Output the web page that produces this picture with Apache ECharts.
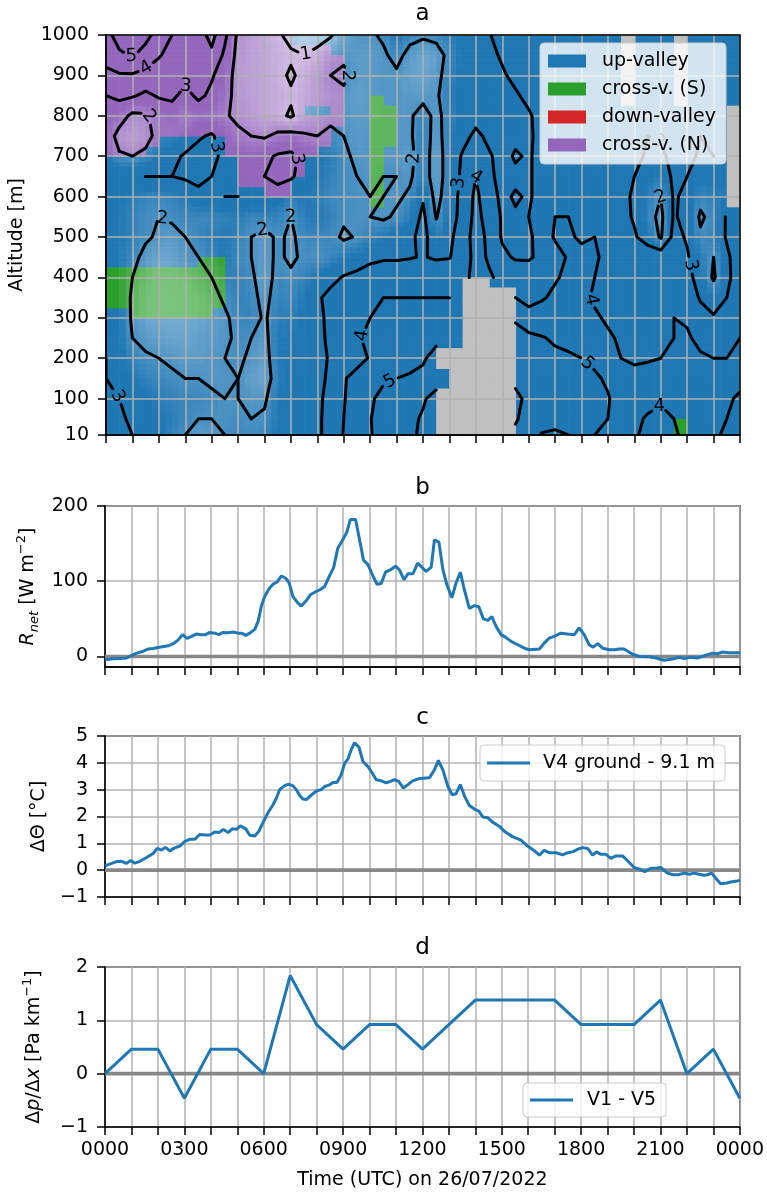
<!DOCTYPE html>
<html>
<head>
<meta charset="utf-8">
<title>Valley winds, net radiation, temperature and pressure differences on 26/07/2022</title>
<script src="https://cdn.jsdelivr.net/npm/echarts@6/dist/echarts.min.js"></script>
<style>
  html, body { margin: 0; padding: 0; background: #ffffff; }
  #chart { width: 767px; height: 1193px; }
</style>
</head>
<body>
<div id="chart"></div>
<script>
// ---------------- axis ticks ----------------
const hourTicks = [0, 1, 2, 3, 4, 5, 6, 7, 8, 9, 10, 11, 12, 13, 14, 15, 16, 17, 18, 19, 20, 21, 22, 23, 24];
const rnetTicks = [0, 100, 200];

// ---------------- panel a: wind classes ----------------
const classNames = ['up-valley', 'cross-v. (S)', 'down-valley', 'cross-v. (N)'];
const classCodes = ['u', 's', 'd', 'n'];
const classColors = ['#1f77b4', '#2ca02c', '#d62728', '#9467bd'];
const missingColor = '#c0c0c0';

// Wind class per 30-min x 25-m cell, run-length coded, top row (975-1000 m) first.
// u = up-valley, s = cross-valley (S), d = down-valley, n = cross-valley (N), x = no data
const windClassRuns = [
  'n14 u25 x1 u3 x1 u4',          // 975
  'n17 u22 x1 u3 x1 u4',          // 950
  'n18 u21 x1 u3 x1 u4',          // 925
  'n18 u21 x1 u3 x1 u4',          // 900
  'n18 u21 x1 u3 x1 u4',          // 875
  'n18 u21 x1 u3 x1 u4',          // 850
  'n18 u2 s1 u18 x1 u3 x1 u4',    // 825
  'n15 u2 n1 u2 s2 u25 x1',       // 800
  'n18 u2 s2 u25 x1',             // 775
  'n17 u3 s2 u25 x1',             // 750
  'n4 u5 n8 u3 s2 u25 x1',        // 725
  'n3 u6 n7 u4 s1 u26 x1',        // 700
  'u10 n5 u5 s1 u26 x1',          // 675
  'u10 n5 u5 s1 u26 x1',          // 650
  'u10 n4 u6 s1 u26 x1',          // 625
  'u12 n2 u6 s1 u26 x1',          // 600
  'u20 s1 u26 x1',                // 575
  'u48',                          // 550
  'u48',                          // 525
  'u48',                          // 500
  'u48',                          // 475
  'u48',                          // 450
  'u7 s2 u39',                    // 425
  's9 u39',                       // 400
  's9 u18 x2 u19',                // 375
  's9 u18 x4 u17',                // 350
  's9 u18 x4 u17',                // 325
  'u2 s6 u19 x4 u17',             // 300
  'u27 x4 u17',                   // 275
  'u27 x4 u17',                   // 250
  'u27 x4 u17',                   // 225
  'u25 x6 u17',                   // 200
  'u25 x6 u17',                   // 175
  'u26 x5 u17',                   // 150
  'u26 x5 u17',                   // 125
  'u25 x6 u17',                   // 100
  'u25 x6 u17',                   // 75
  'u25 x6 u17',                   // 50
  'u25 x6 u12 s1 u4',             // 25
  'u25 x6 u12 s1 u4'              // 0
];

// Horizontal wind speed (m/s) on a 30-min grid (0000..2400), rows from 1000 m down to 10 m.
// Groups per row: 00-05 h | 05:30-09 h | 09:30-17 h | 17:30-18 h | 18:30-21 h | 21:30-24 h
const speedAltitudes = [1000, 950, 900, 850, 800, 750, 700, 650, 600, 550, 500, 450, 400, 350, 300, 250, 200, 150, 100, 50, 10];
const speedRows = [
  [4.6,5.5,5.8,5.3,4.6,4.0,3.4,3.6,4.3,3.2,1.8, 1.5,1.3,1.1,0.8,0.6,0.7,0.9,1.6, 1.9,1.9,2.1,2.6,2.2,2.1,2.2,2.4,2.6,2.8,2.95,3.3,3.5,3.4,3.6,3.5, 3.7,3.9, 3.6,3.4,3.2,3.1,3.3,3.4, 3.3,3.5,3.4,3.5,3.0,3.3],
  [4.3,4.8,5.1,4.6,4.1,3.6,3.0,3.3,3.8,2.8,1.7, 1.5,1.4,1.2,1.1,1.0,1.2,1.7,1.9, 1.8,1.8,1.9,2.2,1.8,1.6,1.7,2.2,2.6,2.7,2.8,3.1,3.4,3.5,3.6,3.6, 3.6,3.8, 3.6,3.4,3.1,3.0,3.2,3.3, 3.3,3.4,3.3,3.4,3.1,3.3],
  [3.8,3.9,3.9,3.7,3.4,3.1,3.3,3.5,3.1,2.5,1.6, 1.5,1.4,1.2,0.9,1.2,1.6,2.0,2.1, 1.8,1.8,1.9,1.9,1.7,1.6,1.8,2.3,2.6,2.7,2.8,2.9,3.2,3.4,3.6,3.7, 3.7,3.7, 3.6,3.5,3.2,3.1,3.2,3.2, 3.4,3.3,3.2,3.3,3.2,3.4],
  [3.0,3.2,3.1,2.8,3.1,3.2,2.7,3.2,2.8,2.3,1.7, 1.5,1.4,1.3,1.1,1.3,1.6,1.8,1.9, 1.7,1.8,1.9,1.9,1.8,1.8,1.9,2.4,2.6,2.7,2.7,2.8,2.9,3.2,3.5,3.7, 3.8,3.7, 3.7,3.5,3.3,3.2,3.1,3.2, 3.4,3.3,3.1,3.2,3.3,3.4],
  [2.7,2.4,1.8,1.9,2.3,2.5,2.1,2.4,2.3,2.1,1.8, 1.6,1.4,1.2,0.9,1.4,1.7,1.9,1.9, 1.8,1.8,1.9,1.9,1.9,2.3,1.8,2.3,2.6,2.7,2.7,2.7,2.8,2.9,3.3,3.6, 3.8,3.6, 3.7,3.5,3.3,3.2,3.0,3.2, 3.4,3.3,3.1,3.2,null,null],
  [2.5,1.7,1.5,1.7,2.3,2.3,2.5,2.9,3.1,2.6,2.2, 2.0,1.9,2.2,2.3,2.1,2.0,2.1,2.0, 1.8,1.9,1.9,1.9,1.9,2.4,1.7,2.4,2.7,3.2,2.8,2.7,2.8,2.8,3.4,3.7, 3.9,3.7, 3.7,3.5,3.4,3.3,3.0,3.1, 3.3,3.2,3.0,3.1,null,null],
  [2.6,2.1,2.0,2.2,2.6,2.8,3.1,3.3,3.2,2.8,2.7, 2.6,2.8,3.1,3.2,2.8,2.6,2.4,2.1, 1.9,1.9,1.9,1.9,1.8,2.4,1.6,2.4,3.1,3.4,3.1,2.7,3.1,2.9,3.3,3.7, 3.8,3.7, 3.7,3.6,3.4,3.2,2.9,2.8, 3.3,3.2,2.9,3.0,null,null],
  [2.8,2.8,2.9,3.0,3.0,3.0,3.1,3.2,3.0,2.9,2.8, 2.7,3.0,3.2,3.1,2.7,2.5,2.3,2.1, 2.0,1.9,2.0,2.0,1.9,2.4,1.6,2.4,3.2,4.0,3.2,2.7,2.8,2.9,3.3,3.8, 3.9,3.8, 3.7,3.6,3.3,3.0,2.6,2.4, 3.2,3.0,2.6,2.7,null,null],
  [2.8,2.6,2.4,2.3,2.2,2.3,2.5,2.8,2.9,3.0,3.0, 2.9,2.8,2.7,2.4,2.5,2.4,2.2,2.1, 2.0,2.0,2.0,1.9,2.1,2.9,1.7,2.5,3.3,4.2,3.4,2.8,3.1,2.9,3.3,3.9, 3.9,3.8, 3.8,3.6,3.2,2.9,2.4,2.0, 3.1,2.8,2.2,2.4,null,null],
  [2.6,2.5,2.3,2.1,2.0,2.1,2.2,2.2,2.2,2.3,2.4, 2.2,2.3,2.3,2.0,2.4,2.5,2.3,2.1, 2.0,2.0,1.9,2.1,2.4,3.2,1.95,2.6,3.3,4.3,3.6,2.9,2.9,3.0,3.4,4.0, 4.0,3.8, 3.9,3.7,3.3,2.9,2.3,1.8, 3.1,2.7,1.9,2.2,3.1,3.4],
  [2.6,2.5,2.3,2.1,1.9,1.8,2.0,2.2,2.4,2.5,2.3, 2.0,1.8,2.1,1.9,2.2,2.2,2.2,1.9, 2.05,2.3,2.5,2.7,2.8,3.3,2.4,2.8,3.5,4.4,3.8,2.9,2.8,2.8,3.5,4.1, 4.1,3.9, 4.0,3.8,3.5,3.1,2.6,1.9, 3.3,2.9,2.1,2.3,3.1,3.5],
  [2.7,2.5,2.2,1.8,1.6,1.6,1.9,2.0,2.3,2.5,2.2, 2.0,1.8,2.1,1.9,2.1,2.0,2.2,2.5, 2.6,2.8,2.9,2.9,2.95,3.05,2.9,2.95,3.5,4.3,3.9,3.2,2.9,2.9,3.2,3.6, 4.1,4.2, 4.1,3.8,3.7,3.7,3.6,3.6, 3.6,3.1,2.4,2.0,2.8,3.6],
  [2.8,2.5,2.0,1.7,1.5,1.5,1.6,1.8,2.0,2.3,2.3, 2.1,1.7,2.2,2.1,2.3,2.6,2.8,3.05, 3.2,3.4,3.5,3.5,3.6,3.6,3.6,3.7,3.9,4.1,4.1,3.8,3.6,3.5,3.6,3.9, 4.2,4.2, 4.0,3.8,3.7,3.6,3.6,3.7, 3.8,3.3,2.6,1.9,2.7,3.7],
  [2.9,2.5,1.9,1.6,1.5,1.5,1.5,1.6,1.8,2.1,2.3, 2.2,1.8,2.3,2.2,2.5,2.9,3.2,3.4, 3.85,3.95,4.0,4.0,4.0,4.0,4.0,4.0,null,null,null,null,4.0,3.5,3.9,4.2, 4.3,4.2, 3.9,3.8,3.6,3.6,3.7,3.8, 3.9,3.6,2.9,2.5,3.0,3.8],
  [2.9,2.6,1.9,1.6,1.5,1.5,1.5,1.6,1.7,1.9,2.2, 2.3,1.9,2.4,2.4,2.6,2.8,3.2,3.6, 3.8,4.0,4.2,4.3,4.3,4.4,4.4,4.3,null,null,null,null,4.9,4.6,4.5,4.5, 4.5,4.4, 4.1,3.9,3.7,3.7,3.8,3.9, 4.0,3.9,3.4,3.1,3.5,3.9],
  [2.9,2.6,2.0,1.8,1.7,1.6,1.6,1.7,1.8,1.9,2.1, 2.0,1.8,2.5,2.5,2.7,2.8,3.15,3.6, 3.9,4.2,4.4,4.5,4.5,4.7,4.8,4.9,null,null,null,null,5.3,5.15,5.05,4.9, 4.8,4.7, 4.4,4.1,3.9,3.8,3.9,3.9, 4.0,4.1,3.8,3.6,3.8,4.0],
  [3.0,2.7,2.3,2.1,2.0,1.9,1.8,1.8,1.9,2.0,2.1, 1.9,1.7,2.5,2.6,2.7,2.85,3.05,3.7, 3.8,4.05,4.5,4.8,4.85,4.9,5.3,null,null,null,null,null,5.6,5.3,5.2,5.15, 5.1,5.0, 4.85,4.4,4.0,3.9,3.95,4.0, 4.1,4.2,4.1,4.0,4.0,4.1],
  [3.0,2.8,2.5,2.3,2.2,2.1,2.0,2.0,1.9,1.9,2.0, 1.7,1.6,2.4,2.6,2.7,2.85,3.1,3.95, 4.2,4.6,4.95,5.0,5.05,5.2,5.6,null,null,null,null,null,5.8,5.6,5.5,5.4, 5.3,5.2, 5.1,4.9,4.4,4.2,4.2,4.2, 4.2,4.3,4.3,4.2,4.1,4.2],
  [3.1,3.0,2.8,2.6,2.4,2.3,2.2,2.2,2.1,2.0,2.0, 1.9,1.9,2.5,2.7,2.8,2.9,3.15,3.95, 4.4,4.95,5.1,5.3,5.5,5.9,6.3,null,null,null,null,null,6.2,5.8,5.6,5.5, 5.4,5.3, 5.1,5.05,4.7,4.4,4.3,4.1, 4.1,4.3,4.3,4.2,4.1,3.9],
  [3.1,3.1,2.9,2.7,2.5,2.4,2.2,2.0,2.0,2.0,2.1, 2.0,2.1,2.5,2.7,2.8,2.9,3.2,4.0, 4.6,4.97,5.3,5.5,5.8,6.1,6.3,null,null,null,null,null,6.1,5.6,5.3,5.2, 5.2,5.2, 5.1,5.0,4.6,4.2,3.9,3.8, 4.0,4.2,4.3,4.2,4.0,3.8],
  [3.2,3.1,3.0,2.8,2.6,2.3,2.0,1.8,1.9,2.0,2.2, 2.1,2.2,2.6,2.8,2.8,2.9,3.2,4.05, 4.7,4.95,5.3,5.6,5.9,6.1,6.2,null,null,null,null,null,5.8,5.3,4.95,4.9, 5.0,5.1, 5.0,4.8,4.4,4.1,3.8,3.7, 3.9,4.2,4.2,4.1,3.9,3.7]
];
const contourLevels = [1, 2, 3, 4, 5, 6];

// ---------------- panel b: net radiation (W m-2) ----------------
const rnetTime = [0,0.31,0.57,0.8,0.97,1.2,1.45,1.64,1.82,2.0,2.23,2.39,2.58,2.77,2.93,3.1,3.27,3.46,3.65,3.8,3.96,4.15,4.3,4.47,4.65,4.84,5.03,5.16,5.32,5.47,5.66,5.79,5.91,6.04,6.2,6.35,6.5,6.67,6.83,6.96,7.1,7.27,7.42,7.58,7.76,7.96,8.14,8.3,8.49,8.64,8.8,8.99,9.14,9.27,9.47,9.62,9.77,9.94,10.1,10.28,10.44,10.6,10.78,10.98,11.13,11.3,11.45,11.64,11.82,12.14,12.33,12.45,12.62,12.77,12.92,13.11,13.27,13.43,13.58,13.77,13.96,14.13,14.3,14.47,14.62,14.78,14.97,15.16,15.35,15.6,15.85,16.04,16.42,16.6,16.79,16.98,17.23,17.48,17.74,17.92,18.11,18.3,18.45,18.62,18.81,19.06,19.25,19.43,19.62,19.94,20.19,20.57,20.82,21.13,21.45,21.7,21.89,22.14,22.39,22.71,22.96,23.15,23.33,23.58,24];
const rnetValue = [-4.4,-3,-2.7,-2.2,0.9,4.4,7,10,10.7,12,13.3,14.2,17,22,29,24,26.7,30,29,29,32,31,29,32,31.5,32.4,31,31,28,31,36,47,67,80,90,96,99,107,104,98,80,72,67,73,82,86,89,93,107.5,118,144,155.5,165,182,182,155.5,128,122,109,96,97,112,115,120,115,102,110,110,124,113,118.7,155,152,115.6,95.6,78,98,112,89,64,67.6,66,50,48,53,40,29,25,20,15.6,11,9,10,17.8,24.4,26.7,31,30,29,38,29,15.6,12.4,17,11,9,9,10,10,3,0,-0.4,-2,-5,-3.5,-1,-2.7,-1,-2,1.8,4.4,3.6,5.8,4.9,4.9];

// ---------------- panel c: potential temperature difference (deg C) ----------------
const thetaTime = [0,0.25,0.44,0.63,0.8,0.97,1.13,1.32,1.57,1.82,1.97,2.14,2.29,2.45,2.64,2.83,3.02,3.2,3.4,3.58,3.77,3.96,4.15,4.31,4.47,4.65,4.81,4.97,5.12,5.32,5.47,5.66,5.82,5.97,6.16,6.35,6.48,6.6,6.79,6.92,7.1,7.23,7.36,7.48,7.61,7.8,7.99,8.18,8.3,8.49,8.62,8.77,8.93,9.06,9.18,9.31,9.43,9.6,9.75,9.94,10.1,10.25,10.44,10.63,10.78,10.94,11.1,11.28,11.45,11.63,11.89,12.26,12.45,12.6,12.77,12.96,13.12,13.27,13.43,13.6,13.77,13.96,14.13,14.28,14.47,14.65,14.9,15.13,15.4,15.72,15.97,16.23,16.42,16.6,16.79,17.05,17.3,17.49,17.7,17.86,18.05,18.24,18.43,18.58,18.74,18.93,19.12,19.31,19.56,19.75,20.0,20.21,20.4,20.63,20.82,21.0,21.26,21.47,21.67,21.89,22.1,22.26,22.45,22.64,22.77,22.93,23.08,23.27,23.46,23.65,23.9,24.0];
const thetaValue = [0.16,0.25,0.32,0.33,0.25,0.36,0.26,0.33,0.47,0.62,0.81,0.75,0.85,0.72,0.83,0.9,1.07,1.15,1.15,1.33,1.31,1.31,1.42,1.4,1.52,1.4,1.54,1.52,1.65,1.54,1.3,1.27,1.46,1.77,2.14,2.44,2.69,3.0,3.15,3.2,3.15,3.0,2.78,2.65,2.63,2.8,2.95,3.0,3.12,3.18,3.27,3.27,3.56,3.99,4.14,4.5,4.75,4.58,4.05,3.86,3.62,3.37,3.33,3.25,3.31,3.37,3.31,3.06,3.19,3.33,3.42,3.44,3.74,4.09,3.74,3.12,2.81,2.85,3.19,2.73,2.41,2.28,2.2,1.98,1.95,1.79,1.64,1.42,1.25,1.12,0.9,0.72,0.56,0.74,0.65,0.65,0.57,0.65,0.69,0.78,0.84,0.81,0.56,0.68,0.59,0.59,0.44,0.53,0.53,0.35,0.1,0.04,-0.06,0.07,0.07,0.1,-0.11,-0.17,-0.17,-0.11,-0.15,-0.11,-0.15,-0.19,-0.17,-0.11,-0.3,-0.51,-0.49,-0.44,-0.4,-0.38];

// ---------------- panel d: along-valley pressure gradient (Pa km-1) ----------------
const dpTime = [0, 1, 2, 3, 4, 5, 6, 7, 8, 9, 10, 11, 12, 13, 14, 15, 16, 17, 18, 19, 20, 21, 22, 23, 24];
const dpValue = [0, 0.46, 0.46, -0.46, 0.46, 0.46, 0, 1.84, 0.92, 0.46, 0.92, 0.92, 0.46, 0.92, 1.38, 1.38, 1.38, 1.38, 0.92, 0.92, 0.92, 1.38, 0, 0.46, -0.46];

// ======================================================================
const FONT = "'DejaVu Sans', sans-serif";
const CLASS_STEP_T = 0.5, CLASS_STEP_Z = 25, CLASS_TOP = 1000;
const speedStepT = 0.5;
const speedTimes = speedRows[0].map((_, i) => i * speedStepT);
const speedAltAsc = speedAltitudes.slice().reverse();
const speedGrid = speedRows.slice().reverse();            // speedGrid[j][i], j = 0 at 10 m

function decodeRuns(str) {
  let out = '';
  str.trim().split(/\s+/).forEach(tok => { out += tok[0].repeat(parseInt(tok.slice(1), 10)); });
  return out;
}
const classGrid = windClassRuns.map(decodeRuns);

function speedAt(t, z) {
  const i = Math.max(0, Math.min(Math.floor(t / speedStepT), speedTimes.length - 2));
  const fx = Math.max(0, Math.min((t - speedTimes[i]) / speedStepT, 1));
  let j = 0;
  while (j < speedAltAsc.length - 2 && z > speedAltAsc[j + 1]) j++;
  const fy = Math.max(0, Math.min((z - speedAltAsc[j]) / (speedAltAsc[j + 1] - speedAltAsc[j]), 1));
  const corners = [
    [speedGrid[j][i], (1 - fx) * (1 - fy)], [speedGrid[j][i + 1], fx * (1 - fy)],
    [speedGrid[j + 1][i], (1 - fx) * fy], [speedGrid[j + 1][i + 1], fx * fy]
  ];
  let s = 0, w = 0;
  corners.forEach(([v, wt]) => { if (v !== null) { s += v * wt; w += wt; } });
  return w > 0 ? s / w : 3;
}
// weak winds are drawn washed out towards white
function fadeAlpha(speed) { return Math.max(0.2, Math.min(1, 0.3 + (speed - 0.6) * 0.36)); }

function tint(hex, a) {
  const r = parseInt(hex.slice(1, 3), 16), g = parseInt(hex.slice(3, 5), 16), b = parseInt(hex.slice(5, 7), 16);
  const m = c => Math.round(255 - a * (255 - c));
  return 'rgb(' + m(r) + ',' + m(g) + ',' + m(b) + ')';
}

// cells split 2 x 2 so the wash-out follows the wind speed smoothly
const cellData = { u: [], s: [], d: [], n: [], x: [] };
classGrid.forEach((row, k) => {
  const zBot = CLASS_TOP - (k + 1) * CLASS_STEP_Z;
  for (let c = 0; c < row.length; c++) {
    const code = row[c];
    const t0 = c * CLASS_STEP_T;
    for (let a = 0; a < 2; a++) {
      for (let b = 0; b < 2; b++) {
        const ta = t0 + a * CLASS_STEP_T / 2, tb = ta + CLASS_STEP_T / 2;
        const za = zBot + b * CLASS_STEP_Z / 2, zb = za + CLASS_STEP_Z / 2;
        const alpha = code === 'x' ? 1 : fadeAlpha(speedAt((ta + tb) / 2, (za + zb) / 2));
        cellData[code].push([ta, za, tb, zb, alpha]);
      }
    }
  }
});

function cellRenderer(color) {
  return function (params, api) {
    const cs = params.coordSys;
    const p0 = api.coord([api.value(0), api.value(3)]);
    const p1 = api.coord([api.value(2), api.value(1)]);
    const x0 = Math.max(p0[0], cs.x), x1 = Math.min(p1[0] + 0.6, cs.x + cs.width);
    const y0 = Math.max(p0[1], cs.y), y1 = Math.min(p1[1] + 0.6, cs.y + cs.height);
    if (x1 <= x0 || y1 <= y0) return null;
    return {
      type: 'rect',
      shape: { x: x0, y: y0, width: x1 - x0, height: y1 - y0 },
      style: { fill: tint(color, api.value(4)) }
    };
  };
}

// ---------------- marching squares on the speed grid ----------------
function traceLevel(level) {
  const V = speedGrid, nx = speedTimes.length, ny = speedAltAsc.length;
  const points = new Map();
  const segs = [];
  const above = v => v >= level;
  function edge(key, i1, j1, i2, j2) {
    if (!points.has(key)) {
      const v1 = V[j1][i1], v2 = V[j2][i2];
      const f = (level - v1) / (v2 - v1);
      points.set(key, [speedTimes[i1] + f * (speedTimes[i2] - speedTimes[i1]),
                       speedAltAsc[j1] + f * (speedAltAsc[j2] - speedAltAsc[j1])]);
    }
    return key;
  }
  for (let j = 0; j < ny - 1; j++) {
    for (let i = 0; i < nx - 1; i++) {
      const v00 = V[j][i], v10 = V[j][i + 1], v01 = V[j + 1][i], v11 = V[j + 1][i + 1];
      if (v00 === null || v10 === null || v01 === null || v11 === null) continue;
      const B = above(v00) !== above(v10) ? edge('h' + i + '_' + j, i, j, i + 1, j) : null;
      const R = above(v10) !== above(v11) ? edge('v' + (i + 1) + '_' + j, i + 1, j, i + 1, j + 1) : null;
      const T = above(v01) !== above(v11) ? edge('h' + i + '_' + (j + 1), i, j + 1, i + 1, j + 1) : null;
      const L = above(v00) !== above(v01) ? edge('v' + i + '_' + j, i, j, i, j + 1) : null;
      const crossed = [B, R, T, L].filter(e => e !== null);
      if (crossed.length === 2) segs.push(crossed);
      else if (crossed.length === 4) {
        const centre = (v00 + v10 + v01 + v11) / 4;
        if (above(v10) !== above(centre)) { segs.push([B, R]); segs.push([T, L]); }
        else { segs.push([B, L]); segs.push([R, T]); }
      }
    }
  }
  const adj = new Map();
  segs.forEach((s, k) => s.forEach(key => { if (!adj.has(key)) adj.set(key, []); adj.get(key).push(k); }));
  const used = new Array(segs.length).fill(false);
  const lines = [];
  const walk = (key, seg) => {
    const keys = [key];
    while (seg !== undefined) {
      used[seg] = true;
      const s = segs[seg];
      key = s[0] === key ? s[1] : s[0];
      keys.push(key);
      seg = adj.get(key).find(k => !used[k]);
    }
    return keys;
  };
  adj.forEach((list, key) => { if (list.length === 1 && !used[list[0]]) lines.push(walk(key, list[0])); });
  segs.forEach((s, k) => { if (!used[k]) lines.push(walk(s[0], k)); });
  return lines.map(keys => keys.map(k => points.get(k)));
}

const contourLines = [];
contourLevels.forEach(level => traceLevel(level).forEach(pts => contourLines.push({ level, pts })));

function pointAlong(px, cum, s) {
  let k = 1;
  while (k < cum.length - 1 && cum[k] < s) k++;
  const len = (cum[k] - cum[k - 1]) || 1;
  const f = (s - cum[k - 1]) / len;
  return { p: [px[k - 1][0] + f * (px[k][0] - px[k - 1][0]), px[k - 1][1] + f * (px[k][1] - px[k - 1][1])], k };
}

function renderContour(params, api) {
  const line = contourLines[api.value(0)];
  const px = line.pts.map(p => api.coord(p));
  const cum = [0];
  for (let k = 1; k < px.length; k++) cum.push(cum[k - 1] + Math.hypot(px[k][0] - px[k - 1][0], px[k][1] - px[k - 1][1]));
  const total = cum[cum.length - 1];
  const stroke = { stroke: '#000000', lineWidth: 3, fill: null, lineJoin: 'round', lineCap: 'round' };
  if (total < 55) return { type: 'polyline', shape: { points: px }, style: stroke };
  const mid = total / 2, gap = 9;
  const a = pointAlong(px, cum, mid - gap), b = pointAlong(px, cum, mid + gap), m = pointAlong(px, cum, mid);
  const before = px.slice(0, a.k).concat([a.p]);
  const after = [b.p].concat(px.slice(b.k));
  let ang = Math.atan2(b.p[1] - a.p[1], b.p[0] - a.p[0]);
  if (ang > Math.PI / 2) ang -= Math.PI;
  if (ang < -Math.PI / 2) ang += Math.PI;
  return {
    type: 'group',
    children: [
      { type: 'polyline', shape: { points: before }, style: stroke },
      { type: 'polyline', shape: { points: after }, style: stroke },
      { type: 'text', x: m.p[0], y: m.p[1], rotation: -ang,
        style: { text: String(line.level), fill: '#000000', fontSize: 18, fontFamily: FONT, align: 'center', verticalAlign: 'middle' } }
    ]
  };
}

// ---------------- layout helpers ----------------
function hourLabel(v) {
  if (v % 3 !== 0) return '';
  const h = v % 24;
  return (h < 10 ? '0' : '') + h + '00';
}
function numLabel(v) { return v < 0 ? '\u2212' + Math.abs(v) : String(v); }

const gridRects = [
  { top: 35, height: 400 },
  { top: 506, height: 161 },
  { top: 736, height: 161 },
  { top: 967, height: 160 }
];
const axisLineStyle = { color: '#000000', width: 1.5 };
const splitStyle = { color: '#b0b0b0', width: 1.5 };

const xAxes = gridRects.map((g, k) => ({
  gridIndex: k, type: 'value', min: 0, max: 24, interval: 1, z: k === 0 ? 2 : 0,
  axisLine: { show: true, onZero: false, lineStyle: axisLineStyle },
  axisTick: { show: true, length: 8, lineStyle: axisLineStyle },
  splitLine: { show: true, lineStyle: splitStyle },
  axisLabel: k === 3
    ? { show: true, formatter: hourLabel, fontSize: 19, color: '#000', fontFamily: FONT, margin: 14, showMinLabel: true, showMaxLabel: true }
    : { show: false },
  name: k === 3 ? 'Time (UTC) on 26/07/2022' : '',
  nameLocation: 'middle', nameGap: 44,
  nameTextStyle: { fontSize: 19, color: '#000', fontFamily: FONT }
}));

const yLabel = { fontSize: 19, color: '#000', fontFamily: FONT, margin: 17, formatter: numLabel };
const yAxes = [
  { gridIndex: 0, type: 'value', min: 10, max: 1000, splitNumber: 10, z: 2,
    axisLine: { show: true, lineStyle: axisLineStyle }, axisTick: { show: true, length: 8, lineStyle: axisLineStyle },
    axisLabel: yLabel, splitLine: { show: true, lineStyle: splitStyle },
    name: 'Altitude [m]', nameLocation: 'middle', nameRotate: 90, nameGap: 79,
    nameTextStyle: { fontSize: 19, color: '#000', fontFamily: FONT } },
  { gridIndex: 1, type: 'value', min: -14, max: 200, splitNumber: 2,
    axisLine: { show: true, onZero: false, lineStyle: axisLineStyle },
    axisTick: { show: true, length: 8, lineStyle: axisLineStyle, customValues: rnetTicks },
    axisLabel: Object.assign({}, yLabel, { customValues: rnetTicks }), splitLine: { show: true, lineStyle: splitStyle },
    name: '{i|R}{s|net} [W m{p|\u22122}]', nameLocation: 'middle', nameRotate: 90, nameGap: 64,
    nameTextStyle: { fontSize: 19, color: '#000', fontFamily: FONT, lineHeight: 26,
      rich: { i: { fontStyle: 'italic', fontSize: 19, fontFamily: FONT },
              s: { fontStyle: 'italic', fontSize: 13, fontFamily: FONT, verticalAlign: 'bottom' },
              p: { fontSize: 13, fontFamily: FONT, verticalAlign: 'top' } } } },
  { gridIndex: 2, type: 'value', min: -1, max: 5, interval: 1,
    axisLine: { show: true, onZero: false, lineStyle: axisLineStyle }, axisTick: { show: true, length: 8, lineStyle: axisLineStyle },
    axisLabel: yLabel, splitLine: { show: true, lineStyle: splitStyle },
    name: '\u0394\u0398 [\u00b0C]', nameLocation: 'middle', nameRotate: 90, nameGap: 56,
    nameTextStyle: { fontSize: 19, color: '#000', fontFamily: FONT } },
  { gridIndex: 3, type: 'value', min: -1, max: 2, interval: 1,
    axisLine: { show: true, onZero: false, lineStyle: axisLineStyle }, axisTick: { show: true, length: 8, lineStyle: axisLineStyle },
    axisLabel: yLabel, splitLine: { show: true, lineStyle: splitStyle },
    name: '\u0394{i|p}/\u0394{i|x} [Pa km{p|\u22121}]', nameLocation: 'middle', nameRotate: 90, nameGap: 58,
    nameTextStyle: { fontSize: 19, color: '#000', fontFamily: FONT, lineHeight: 26,
      rich: { i: { fontStyle: 'italic', fontSize: 19, fontFamily: FONT },
              p: { fontSize: 13, fontFamily: FONT, verticalAlign: 'top' } } } }
];

const zip = (ts, vs) => ts.map((t, k) => [t, vs[k]]);
const zeroLine = (k) => ({
  type: 'line', xAxisIndex: k, yAxisIndex: k, data: [[0, 0], [24, 0]], symbol: 'none', silent: true, z: 1,
  lineStyle: { color: '#888888', width: 3.6 }, itemStyle: { color: '#888888' }
});

const series = [];
classCodes.forEach((code, k) => {
  series.push({
    type: 'custom', name: classNames[k], xAxisIndex: 0, yAxisIndex: 0, z: 1, clip: true, silent: true,
    itemStyle: { color: classColors[k] }, encode: { x: [0, 2], y: [1, 3] },
    renderItem: cellRenderer(classColors[k]), data: cellData[code]
  });
});
series.push({
  type: 'custom', name: 'no data', xAxisIndex: 0, yAxisIndex: 0, z: 1, clip: true, silent: true,
  itemStyle: { color: missingColor }, encode: { x: [0, 2], y: [1, 3] },
  renderItem: cellRenderer(missingColor), data: cellData.x
});
series.push({
  type: 'custom', name: 'wind speed', xAxisIndex: 0, yAxisIndex: 0, z: 3, clip: true, silent: true,
  encode: { x: 1, y: 2 }, renderItem: renderContour,
  data: contourLines.map((ln, k) => [k, ln.pts[0][0], ln.pts[0][1]])
});
series.push(zeroLine(1), zeroLine(2), zeroLine(3));
series.push({ type: 'line', name: 'R_net', xAxisIndex: 1, yAxisIndex: 1, data: zip(rnetTime, rnetValue),
  symbol: 'none', lineStyle: { color: '#1f77b4', width: 3 }, itemStyle: { color: '#1f77b4' }, z: 2 });
series.push({ type: 'line', name: 'V4 ground - 9.1 m', xAxisIndex: 2, yAxisIndex: 2, data: zip(thetaTime, thetaValue),
  symbol: 'none', lineStyle: { color: '#1f77b4', width: 3 }, itemStyle: { color: '#1f77b4' }, z: 2 });
series.push({ type: 'line', name: 'V1 - V5', xAxisIndex: 3, yAxisIndex: 3, data: zip(dpTime, dpValue),
  symbol: 'none', lineStyle: { color: '#1f77b4', width: 3 }, itemStyle: { color: '#1f77b4' }, z: 2 });

const legendBase = {
  orient: 'vertical', icon: 'rect', selectedMode: false,
  backgroundColor: 'rgba(255,255,255,0.8)', borderColor: '#cccccc', borderWidth: 1, borderRadius: 4
};

const option = {
  animation: false,
  textStyle: { fontFamily: FONT, color: '#000' },
  grid: gridRects.map((g, k) => ({
    left: 105, right: 27, top: g.top, height: g.height, show: true,
    borderColor: '#000000', borderWidth: 1.5, backgroundColor: 'transparent', z: k === 0 ? 4 : 0
  })),
  xAxis: xAxes,
  yAxis: yAxes,
  legend: [
    Object.assign({}, legendBase, {
      data: classNames, left: 540, top: 43, itemWidth: 38, itemHeight: 13, itemGap: 8,
      padding: [8, 10, 9, 8],
      textStyle: { fontSize: 19, color: '#000', fontFamily: FONT, lineHeight: 20, padding: [0, 0, 0, 11] }
    }),
    Object.assign({}, legendBase, {
      data: ['V4 ground - 9.1 m'], left: 480, top: 745, itemWidth: 43, itemHeight: 3,
      padding: [8, 10, 8, 7],
      textStyle: { fontSize: 19, color: '#000', fontFamily: FONT, lineHeight: 20, padding: [0, 0, 0, 8] }
    }),
    Object.assign({}, legendBase, {
      data: ['V1 - V5'], left: 523, top: 1083, itemWidth: 43, itemHeight: 3,
      padding: [7, 10, 7, 7],
      textStyle: { fontSize: 19, color: '#000', fontFamily: FONT, lineHeight: 20, padding: [0, 0, 0, 9] }
    })
  ],
  graphic: [
    { type: 'text', x: 422.5, y: 26, style: { text: 'a', fontSize: 23, fontFamily: FONT, fill: '#000', align: 'center', verticalAlign: 'bottom' } },
    { type: 'text', x: 422.5, y: 500, style: { text: 'b', fontSize: 23, fontFamily: FONT, fill: '#000', align: 'center', verticalAlign: 'bottom' } },
    { type: 'text', x: 422.5, y: 730, style: { text: 'c', fontSize: 23, fontFamily: FONT, fill: '#000', align: 'center', verticalAlign: 'bottom' } },
    { type: 'text', x: 422.5, y: 960, style: { text: 'd', fontSize: 23, fontFamily: FONT, fill: '#000', align: 'center', verticalAlign: 'bottom' } }
  ],
  series: series
};

const chart = echarts.init(document.getElementById('chart'), null, { renderer: 'canvas' });
chart.setOption(option);
</script>
</body>
</html>
